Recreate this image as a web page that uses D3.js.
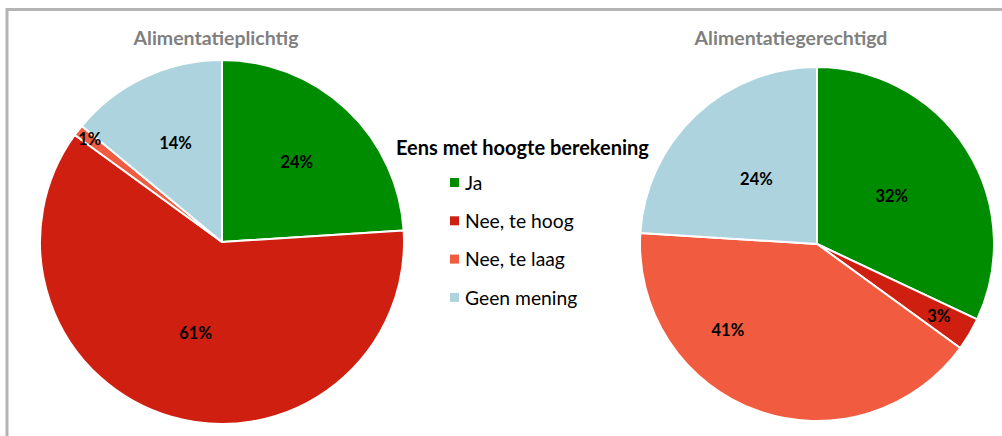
<!DOCTYPE html>
<html>
<head>
<meta charset="utf-8">
<script src="https://cdn.jsdelivr.net/npm/d3@7"></script>
<style>
  body { margin: 0; background: #fff; }
  svg { display: block; font-family: Lato, "Open Sans", sans-serif; }
</style>
</head>
<body>
<script>
// data
var categories = ["Ja", "Nee, te hoog", "Nee, te laag", "Geen mening"];
var colors = ["#008c00", "#cf1f10", "#f15b40", "#add3de"];
var plichtig = [24, 61, 1, 14];
var gerechtigd = [32, 3, 41, 24];
var chartTitles = ["Alimentatieplichtig", "Alimentatiegerechtigd"];
var legendTitle = "Eens met hoogte berekening";

var width = 1002, height = 436;

var svg = d3.select("body").append("svg")
    .attr("width", width)
    .attr("height", height);

// frame (top + left edge)
svg.append("line").attr("x1", 6).attr("x2", width).attr("y1", 9.5).attr("y2", 9.5)
    .attr("stroke", "#b4b4b4").attr("stroke-width", 3);
svg.append("line").attr("x1", 7).attr("x2", 7).attr("y1", 8).attr("y2", height)
    .attr("stroke", "#b4b4b4").attr("stroke-width", 3);

// pie layout: start at top, clockwise, in data order
var pie = d3.pie().sort(null).value(function(d) { return d; });

// label placement, fraction of radius (and optional angle override, degrees)
var charts = [
    { values: plichtig, cx: 222, cy: 242, r: 182, titleX: 216, labelR: [0.6, 0.52, 0.92, 0.6], labelA: [null, null, null, null] },
    { values: gerechtigd, cx: 817, cy: 244, r: 177, titleX: 791, labelR: [0.5, 0.8, 0.7, 0.5], labelA: [null, null, 226, null] }
];

charts.forEach(function(c, ci) {
    var g = svg.append("g").attr("transform", "translate(" + c.cx + "," + c.cy + ")");
    var arc = d3.arc().innerRadius(0).outerRadius(c.r);
    var arcs = pie(c.values);

    g.selectAll("path.slice")
        .data(arcs)
        .enter().append("path")
        .attr("class", "slice")
        .attr("d", arc)
        .attr("fill", function(d, i) { return colors[i]; })
        .attr("stroke", "#fff")
        .attr("stroke-width", 2)
        .attr("stroke-linejoin", "round");

    g.selectAll("text.lbl")
        .data(arcs)
        .enter().append("text")
        .attr("class", "lbl")
        .attr("transform", function(d, i) {
            var a = c.labelA[i] != null ? c.labelA[i] * Math.PI / 180 : (d.startAngle + d.endAngle) / 2;
            var rr = c.r * c.labelR[i];
            return "translate(" + (Math.sin(a) * rr) + "," + (-Math.cos(a) * rr) + ")";
        })
        .attr("text-anchor", "middle")
        .attr("dy", "0.35em")
        .style("font-size", "16.5px")
        .style("font-weight", "bold")
        .style("fill", "#000")
        .text(function(d) { return d.data + "%"; });

    svg.append("text")
        .attr("x", c.titleX)
        .attr("y", 45)
        .attr("text-anchor", "middle")
        .style("font-size", "19.5px")
        .style("font-weight", "bold")
        .style("fill", "#7f7f7f")
        .text(chartTitles[ci]);
});

// legend
var legend = svg.append("g");
legend.append("text")
    .attr("x", 396)
    .attr("y", 155)
    .style("font-size", "20px")
    .style("font-weight", "bold")
    .style("fill", "#000")
    .text(legendTitle);

var item = legend.selectAll("g.item")
    .data(categories)
    .enter().append("g")
    .attr("class", "item")
    .attr("transform", function(d, i) { return "translate(450," + (183 + i * 38.3) + ")"; });

item.append("rect")
    .attr("x", 0).attr("y", -5)
    .attr("width", 9).attr("height", 9)
    .attr("fill", function(d, i) { return colors[i]; });

item.append("text")
    .attr("x", 15)
    .attr("dy", "0.35em")
    .style("font-size", "19.3px")
    .style("fill", "#000")
    .text(function(d) { return d; });
</script>
</body>
</html>
